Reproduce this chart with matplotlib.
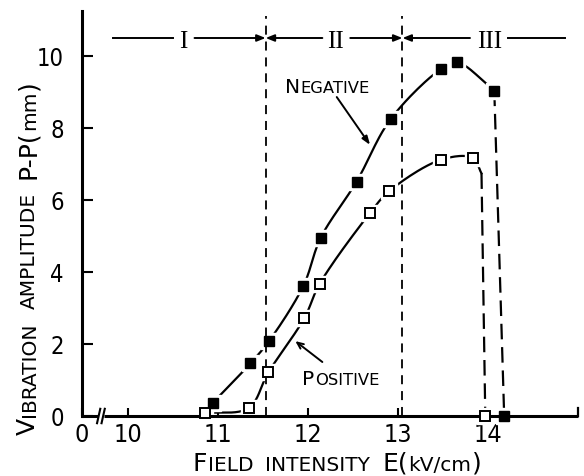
import numpy as np
import matplotlib
matplotlib.use('Agg')
import matplotlib.pyplot as plt
from matplotlib import font_manager

# ---------------- data ----------------
neg_x = [10.94, 11.36, 11.57, 11.95, 12.14, 12.54, 12.92, 13.48, 13.66, 14.07, 14.18]
neg_y = [0.36, 1.46, 2.09, 3.62, 4.94, 6.51, 8.25, 9.64, 9.82, 9.04, 0.0]
pos_x = [10.86, 11.34, 11.56, 11.96, 12.13, 12.69, 12.90, 13.48, 13.83, 13.97]
pos_y = [0.08, 0.22, 1.21, 2.72, 3.67, 5.64, 6.24, 7.12, 7.17, 0.0]
x_ticks = [10, 11, 12, 13, 14]
x_tick_labels = ['10', '11', '12', '13', '14']
y_ticks = [0, 2, 4, 6, 8, 10]
region_bounds = [11.53, 13.05]
region_labels = ['I', 'II', 'III']
X_ZERO_POS = 9.49      # where "0" sits on the broken x axis
X_MAX = 15.0
Y_MAX = 11.25

W, H = 584, 477
fonts = font_manager.fontManager.ttflist
names = {f.name for f in fonts}
SANS = 'DejaVu Sans'
SERIF = 'Liberation Serif' if 'Liberation Serif' in names else 'DejaVu Serif'
if 'Liberation Sans Narrow' in names:
    NUM_FAMILY, NUM_STRETCH = 'Liberation Sans Narrow', 'normal'
else:
    NUM_FAMILY, NUM_STRETCH = 'DejaVu Sans', 'condensed'

fig = plt.figure(figsize=(W / 100, H / 100), dpi=100)
ax = fig.add_axes([82 / W, 60 / H, 496 / W, 405 / H])
ax.set_xlim(X_ZERO_POS, X_MAX)
ax.set_ylim(0, Y_MAX)
for s in ['top', 'right', 'bottom']:
    ax.spines[s].set_visible(False)
ax.spines['left'].set_linewidth(2.2)
ax.spines['left'].set_bounds(0, Y_MAX)

SX, SY = 90.0, 36.0   # pixel per unit, used so smoothing works in screen-like space


def centripetal(xs, ys, n=24, alpha=0.5):
    P = np.column_stack([np.asarray(xs) * SX, np.asarray(ys) * SY])
    P = np.vstack([2 * P[0] - P[1], P, 2 * P[-1] - P[-2]])
    out = []
    for i in range(1, len(P) - 2):
        p0, p1, p2, p3 = P[i - 1], P[i], P[i + 1], P[i + 2]
        t0 = 0.0
        t1 = t0 + np.linalg.norm(p1 - p0) ** alpha
        t2 = t1 + np.linalg.norm(p2 - p1) ** alpha
        t3 = t2 + np.linalg.norm(p3 - p2) ** alpha
        t = np.linspace(t1, t2, n)[:, None]
        A1 = (t1 - t) / (t1 - t0) * p0 + (t - t0) / (t1 - t0) * p1
        A2 = (t2 - t) / (t2 - t1) * p1 + (t - t1) / (t2 - t1) * p2
        A3 = (t3 - t) / (t3 - t2) * p2 + (t - t2) / (t3 - t2) * p3
        B1 = (t2 - t) / (t2 - t0) * A1 + (t - t0) / (t2 - t0) * A2
        B2 = (t3 - t) / (t3 - t1) * A2 + (t - t1) / (t3 - t1) * A3
        C = (t2 - t) / (t2 - t1) * B1 + (t - t1) / (t2 - t1) * B2
        out.append(C)
    C = np.vstack(out)
    return C[:, 0] / SX, C[:, 1] / SY


# --- negative curve: solid through the raised points, dashed drop to zero
cx, cy = centripetal(neg_x[:-1], neg_y[:-1])
ax.plot(cx, cy, color='k', lw=1.6, zorder=2)
ax.plot(neg_x[-2:], neg_y[-2:], color='k', lw=1.6, ls=(0, (7, 3.5)), zorder=2, clip_on=False)

# --- positive curve: solid, bending down, dashed drop to zero
xl, yl, x0 = pos_x[-2], pos_y[-2], pos_x[-1]
bend = (xl + 0.7 * (x0 - xl), 0.94 * yl)
cx, cy = centripetal(pos_x[:-1] + [bend[0]], pos_y[:-1] + [bend[1]])
ax.plot(cx, cy, color='k', lw=1.6, zorder=2)
ax.plot([bend[0], x0], [bend[1], pos_y[-1]], color='k', lw=1.6, ls=(0, (7, 3.5)), zorder=2, clip_on=False)

# white halos around markers (gaps in hand-drawn lines)
ax.plot(neg_x, neg_y, 's', ms=12, color='white', mec='white', zorder=3, clip_on=False)
ax.plot(pos_x, pos_y, 's', ms=12, color='white', mec='white', zorder=3, clip_on=False)

# region boundaries
for b in region_bounds:
    ax.plot([b, b], [0, 11.1], color='k', lw=1.3, ls=(0, (5, 3.8)), zorder=3.5, clip_on=False)

# markers
ax.plot(neg_x, neg_y, 's', ms=7.5, color='k', mec='k', zorder=5, clip_on=False)
ax.plot(pos_x, pos_y, 's', ms=7.5, mfc='white', mec='k', mew=1.4, zorder=5, clip_on=False)

# ---------------- axes decorations ----------------
LW = 2.2
ax.plot([X_ZERO_POS, 9.665], [0, 0], color='k', lw=LW, clip_on=False, solid_capstyle='butt', zorder=4)
ax.plot([9.735, X_MAX], [0, 0], color='k', lw=LW, clip_on=False, solid_capstyle='butt', zorder=4)
ax.plot([X_MAX, X_MAX], [0, 0.22], color='k', lw=1.6, clip_on=False, zorder=4)
for bx in [9.675, 9.725]:
    ax.plot([bx - 0.018, bx + 0.018], [-0.2, 0.2], color='k', lw=1.5, clip_on=False, zorder=4)

ax.set_xticks([X_ZERO_POS] + x_ticks)
ax.set_xticklabels(['0'] + x_tick_labels)
ax.set_yticks(y_ticks)
ax.tick_params(axis='x', direction='in', length=6, width=1.5, pad=4, labelsize=18)
ax.tick_params(axis='y', direction='in', length=8, width=1.5, pad=13, labelsize=17)
for lab in ax.get_xticklabels() + ax.get_yticklabels():
    lab.set_family(NUM_FAMILY)
    lab.set_fontstretch(NUM_STRETCH)

# region bar at top
RY = 10.5
arrow_kw = dict(arrowstyle='-|>,head_length=0.5,head_width=0.2', lw=1.4, color='k',
                shrinkA=0, shrinkB=0)
ax.plot([9.83, 10.50], [RY, RY], color='k', lw=1.4, clip_on=False)
ax.annotate('', xy=(region_bounds[0], RY), xytext=(10.74, RY), arrowprops=arrow_kw, annotation_clip=False)
ax.annotate('', xy=(region_bounds[0], RY), xytext=(12.16, RY), arrowprops=arrow_kw, annotation_clip=False)
ax.annotate('', xy=(region_bounds[1], RY), xytext=(12.47, RY), arrowprops=arrow_kw, annotation_clip=False)
ax.annotate('', xy=(region_bounds[1], RY), xytext=(13.80, RY), arrowprops=arrow_kw, annotation_clip=False)
ax.plot([14.22, 14.86], [RY, RY], color='k', lw=1.4, clip_on=False)
for lab, xc in zip(region_labels, [10.61, 12.31, 14.02]):
    ax.text(xc, RY, lab, family=SERIF, fontsize=18, ha='center', va='center_baseline')

# ---------------- small-caps style labels ----------------
renderer = fig.canvas.get_renderer()


def seq(pieces, along, base, vertical=False, align='center'):
    """pieces: (text, fontsize, gap_before_px); along/base in display px."""
    widths = []
    for text, size, _ in pieces:
        t = fig.text(0, 0, text, fontsize=size, family=SANS)
        widths.append(t.get_window_extent(renderer).width)
        t.remove()
    total = sum(widths) + sum(p[2] for p in pieces)
    pos = along - total / 2 if align == 'center' else along
    for (text, size, gap), w in zip(pieces, widths):
        pos += gap
        if vertical:
            xy = (base / W, pos / H)
        else:
            xy = (pos / W, base / H)
        fig.text(xy[0], xy[1], text, fontsize=size, family=SANS,
                 rotation=90 if vertical else 0, rotation_mode='anchor',
                 ha='left', va='baseline')
        pos += w


BIG, SMALL = 18, 14.5
# y label: centre 219.5 px from bottom, baseline 35 px from left
seq([('V', BIG, 0), ('IBRATION', SMALL, 0.5), ('AMPLITUDE', SMALL, 14),
     ('P-P(', BIG, 14), ('mm', SMALL, 0.5), (')', BIG, 0.5)], 219.5, 35, vertical=True)
# x label
seq([('F', BIG, 0), ('IELD', SMALL, 0.5), ('INTENSITY', SMALL, 12),
     ('E(', BIG, 12), ('kV/cm', SMALL, 0.5), (')', BIG, 0.5)], 337, H - 471)
# curve labels
seq([('N', 14.5, 0), ('EGATIVE', 11.8, 0.5)], 285, H - 93, align='left')
seq([('P', 14.5, 0), ('OSITIVE', 11.8, 0.5)], 302, H - 385, align='left')

ax.annotate('', xy=(12.69, 7.53), xytext=(12.32, 8.86),
            arrowprops=dict(arrowstyle='-|>,head_length=0.5,head_width=0.18', lw=1.4, color='k',
                            shrinkA=0, shrinkB=0), annotation_clip=False)
ax.annotate('', xy=(11.86, 2.08), xytext=(12.16, 1.50),
            arrowprops=dict(arrowstyle='->,head_length=0.45,head_width=0.2', lw=1.4, color='k',
                            shrinkA=0, shrinkB=0), annotation_clip=False)

fig.savefig('out.png', dpi=100)
